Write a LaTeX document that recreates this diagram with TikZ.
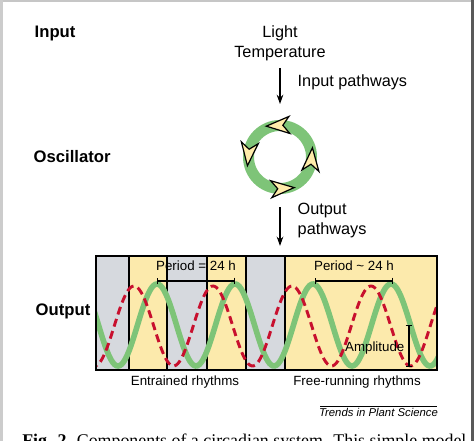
\documentclass[tikz,border=0pt]{standalone}
\usepackage{fontspec}
\setmainfont{Liberation Sans}
\newfontfamily\capfont{Liberation Serif}
\usetikzlibrary{arrows.meta,positioning}
\definecolor{dayc}{RGB}{252,234,172}
\definecolor{nightc}{RGB}{214,217,222}
\definecolor{ringc}{RGB}{126,196,120}
\definecolor{clockred}{RGB}{200,16,46}
\definecolor{tipc}{RGB}{255,236,170}

\begin{document}
\begin{tikzpicture}[
    x=0.75pt, y=0.75pt,
    stagelabel/.style={anchor=west,font=\bfseries\fontsize{12.5pt}{15pt}\selectfont},
    plainlabel/.style={font=\fontsize{12.2pt}{15pt}\selectfont},
    smalllabel/.style={font=\fontsize{10pt}{12pt}\selectfont,inner sep=1pt},
    pathway/.style={-{Stealth[length=7pt,width=5pt]},line width=0.9pt},
    ringarrow/.style={fill=tipc,draw=black,line width=0.9pt,line join=miter},
    divider/.style={line width=1.1pt},
    bar/.style={line width=1.1pt,{Bar[width=5pt]}-{Bar[width=5pt]}}
  ]
  \useasboundingbox (0,0) rectangle (474,441);

  % stage names
  \node (input)  [stagelabel] at (30,407) {Input};
  \node (oscillator) [stagelabel] at (29,284) {Oscillator};
  \node (output) [stagelabel] at (31,130) {Output};

  % input side
  \node (stimulus) [plainlabel,align=center] at (280,398) {Light\\Temperature};
  \node (inpath) [plainlabel,anchor=west] at (293,359) {Input pathways};

  % oscillator ring
  \node (osc) [circle,draw=ringc,line width=8.25pt,minimum size=47.25pt,inner sep=0pt] at (280,284) {};
  \foreach \a in {93,174,274,355}
    \draw[ringarrow,shift={(osc.center)},rotate=\a]
      (31.5,12) -- (40,-11) -- (31.5,-4.5) -- (23,-11) -- cycle;

  \draw[pathway,shorten <=2pt,shorten >=12pt] (stimulus.south) -- (osc.north);

  % output side
  \node (outpath) [plainlabel,anchor=west,align=left] at (293,220) {Output\\pathways};

  % day / night bands
  \foreach \l/\r/\c in {96/129/nightc,129/167/dayc,167/207/nightc,207/246/dayc,246/285/nightc,285/437/dayc}
    \fill[\c] (\l,71) rectangle (\r,185);
  \foreach \x in {129,167,207,246,285}
    \draw[divider] (\x,71) -- (\x,185);

  % rhythms
  \begin{scope}
    \clip (96,71) rectangle (437,185);
    \draw[ringc,line width=4.2pt] plot[domain=90:440,samples=200,smooth]
      (\x,{116+41*cos(4.6154*(\x-157))});
    \draw[clockred,line width=2.2pt,dash pattern=on 6pt off 3.5pt] plot[domain=90:440,samples=200,smooth]
      (\x,{115+40*cos(4.557*(\x-134))});
  \end{scope}
  \node (panel) [draw,line width=1.1pt,minimum width=255.75pt,minimum height=85.5pt,inner sep=0pt] at (266.5,128) {};

  \draw[pathway,shorten <=10pt,shorten >=7pt] (osc.south) -- (osc.south |- panel.north);

  % period and amplitude marks
  \draw[bar] (157,160) -- node[smalllabel,above=6.5pt] (period1) {Period = 24 h} (235,160);
  \draw[bar] (315,160) -- node[smalllabel,above=6.5pt] (period2) {Period \textasciitilde{} 24 h} (393,160);
  \draw[bar] (409,116) -- (409,74);
  \node (amp) [smalllabel,anchor=east] at (406,93) {Amplitude};

  \node (entrained) [smalllabel] at (185,59) {Entrained rhythms};
  \node (freerun) [smalllabel] at (357,59) {Free-running rhythms};

  % journal line
  \node (journal) [font=\itshape\fontsize{8.5pt}{10pt}\selectfont,inner sep=1pt] at (378.5,29) {Trends in Plant Science};
  \draw[line width=0.6pt] (320,35) -- (437,35);

  % cut caption
  \node (caption) [anchor=base west,inner sep=0pt,font=\capfont\fontsize{13.4pt}{15pt}\selectfont] at (22,-6)
    {\textbf{Fig. 2.} Components of a circadian system. This simple model};

  % page edges
  \fill[gray!45] (0,438.5) rectangle (474,441);
  \fill[gray!40] (0,0) rectangle (2.5,441);
  \fill[gray!70!black] (471,0) rectangle (474,441);
\end{tikzpicture}
\end{document}
